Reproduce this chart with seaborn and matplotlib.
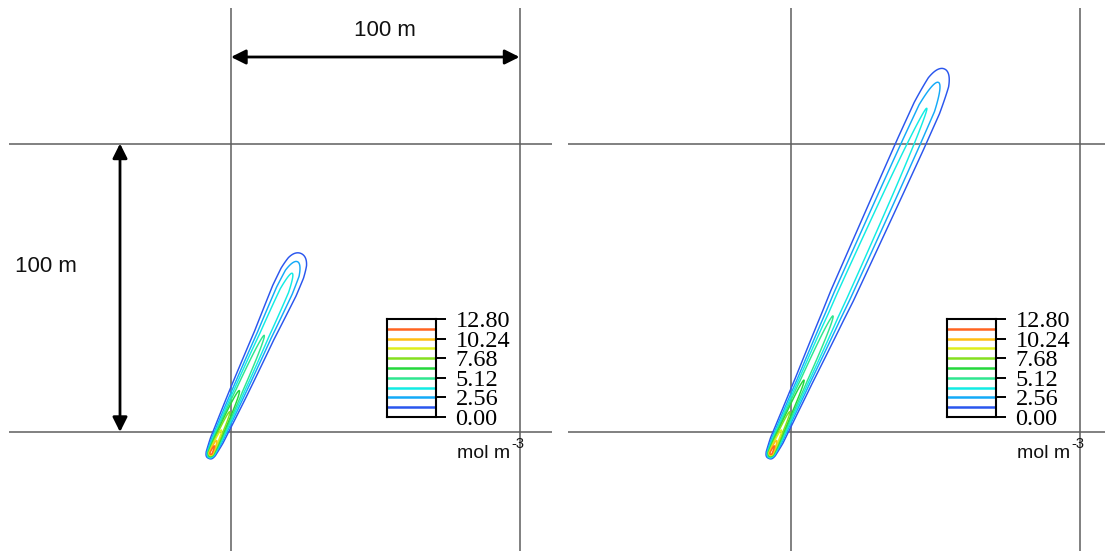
import numpy as np
import matplotlib
matplotlib.use("Agg")
import matplotlib.pyplot as plt
import seaborn as sns

sns.set_theme(style="white")
plt.rcParams["font.family"] = ["Liberation Sans", "DejaVu Sans"]

# Contour levels (mol m^-3) and their line colours
levels = [1.28, 2.56, 3.84, 5.12, 6.40, 7.68, 8.96, 10.24, 11.52]
level_colors = sns.color_palette(["#2a56ee", "#14aaf8", "#12ece4", "#2ee690",
                                  "#24d83c", "#84e01e", "#dcee1e", "#ffbe14", "#ff6420"])
legend_ticks = [0.00, 2.56, 5.12, 7.68, 10.24, 12.80]

# Plume source (m) and heading (deg from +x)
source_xy = (-7.0, -7.5)
heading_deg = 65.7

# Centreline concentration profile vs. downwind distance (m), early plume
s_short = [-2.0, 0.0, 3.0, 5.0, 9.0, 16.0, 24.0, 45.0, 62.0, 68.6, 73.0, 76.1, 79.0]
c_short = [0.0, 13.0, 11.52, 10.24, 8.96, 7.68, 6.40, 5.12, 4.50, 3.84, 2.56, 1.28, 0.0]
sw_short = [-2.0, 0.0, 5.0, 24.0, 45.0, 62.0, 80.0]
sig_short = [0.7, 0.8, 1.15, 1.75, 2.2, 2.8, 3.0]

# Later, fully developed plume
s_long = [-2.0, 0.0, 3.0, 5.0, 9.0, 16.0, 28.0, 52.4, 100.0, 131.4, 141.2, 146.3, 149.5]
c_long = [0.0, 13.0, 11.52, 10.24, 8.96, 7.68, 6.40, 5.12, 4.40, 3.84, 2.56, 1.28, 0.0]
sw_long = [-2.0, 0.0, 5.0, 28.0, 60.0, 118.0, 150.0]
sig_long = [0.7, 0.8, 1.15, 1.7, 2.6, 3.2, 3.3]

grid_marks = [0.0, 100.0]
scale_len = 100.0

W, H = 1105, 551
PX_PER_M = 2.885


def plume_field(s_prof, c_prof, s_sig, sig):
    x = np.arange(-20, 70, 0.15)
    y = np.arange(-20, 140, 0.15)
    X, Y = np.meshgrid(x, y)
    th = np.deg2rad(heading_deg)
    dx, dy = X - source_xy[0], Y - source_xy[1]
    s = dx * np.cos(th) + dy * np.sin(th)
    n = -dx * np.sin(th) + dy * np.cos(th)
    peak = np.interp(s, s_prof, c_prof, left=0.0, right=0.0)
    sg = np.interp(s, s_sig, sig)
    return X, Y, peak * np.exp(-0.5 * (n / sg) ** 2)


fig = plt.figure(figsize=(W / 100, H / 100), dpi=100)


def panel(px_left, px_right, px_origin_x, field, legend_px_x):
    ax = fig.add_axes([px_left / W, 0.0, (px_right - px_left) / W, (H - 8) / H])
    ax.set_xlim((px_left - px_origin_x) / PX_PER_M, (px_right - px_origin_x) / PX_PER_M)
    ax.set_ylim((432 - H) / PX_PER_M, (432 - 8) / PX_PER_M)
    ax.axis("off")
    for g in grid_marks:
        ax.axhline(g, color="#5e5e5e", lw=1.1, zorder=1)
        ax.axvline(g, color="#5e5e5e", lw=1.1, zorder=1)
    X, Y, C = field
    ax.contour(X, Y, C, levels=levels, colors=level_colors, linewidths=1.05, zorder=3)

    # concentration key
    lax = fig.add_axes([legend_px_x / W, (H - 417) / H, 49 / W, 98 / H])
    lax.set_xlim(0, 1)
    lax.set_ylim(0, 12.8)
    lax.hlines(levels, 0, 1, colors=level_colors, lw=1.8)
    lax.set_xticks([])
    lax.yaxis.tick_right()
    lax.set_yticks(legend_ticks)
    lax.set_yticklabels([f"{v:.2f}" for v in legend_ticks],
                        family=["Liberation Serif", "DejaVu Serif"], fontsize=17.5)
    lax.tick_params(axis="y", direction="out", length=7, width=1.4, pad=7,
                    colors="black", right=True, left=False)
    for sp in lax.spines.values():
        sp.set_color("black")
        sp.set_linewidth(1.5)
        sp.set_visible(True)
    unit = ax.text((legend_px_x + 70 - px_origin_x) / PX_PER_M, (432 - 458) / PX_PER_M,
                   "mol m", fontsize=14, ha="left", va="baseline", color="#111111")
    ax.annotate("-3", xy=(1.0, 0.62), xycoords=unit, xytext=(1, 0), textcoords="offset points",
                fontsize=10.5, ha="left", va="bottom", color="#111111")
    return ax


ax1 = panel(9, 552, 231, plume_field(s_short, c_short, sw_short, sig_short), 387)
ax2 = panel(568, 1105, 791, plume_field(s_long, c_long, sw_long, sig_long), 947)

# 100 m scale bars
arrow = dict(arrowstyle="<|-|>", color="black", lw=2.0, mutation_scale=22, shrinkA=0, shrinkB=0)
ya = (432 - 57) / PX_PER_M
ax1.annotate("", xy=(scale_len, ya), xytext=(0, ya), arrowprops=arrow, zorder=4)
ax1.text((385 - 231) / PX_PER_M, (432 - 31) / PX_PER_M, f"{scale_len:.0f} m", fontsize=16,
         ha="center", va="center", color="#111111")
xa = (120 - 231) / PX_PER_M
ax1.annotate("", xy=(xa, scale_len), xytext=(xa, 0), arrowprops=arrow, zorder=4)
ax1.text((46 - 231) / PX_PER_M, (432 - 267) / PX_PER_M, f"{scale_len:.0f} m", fontsize=16,
         ha="center", va="center", color="#111111")

fig.savefig("out.png", dpi=100)
